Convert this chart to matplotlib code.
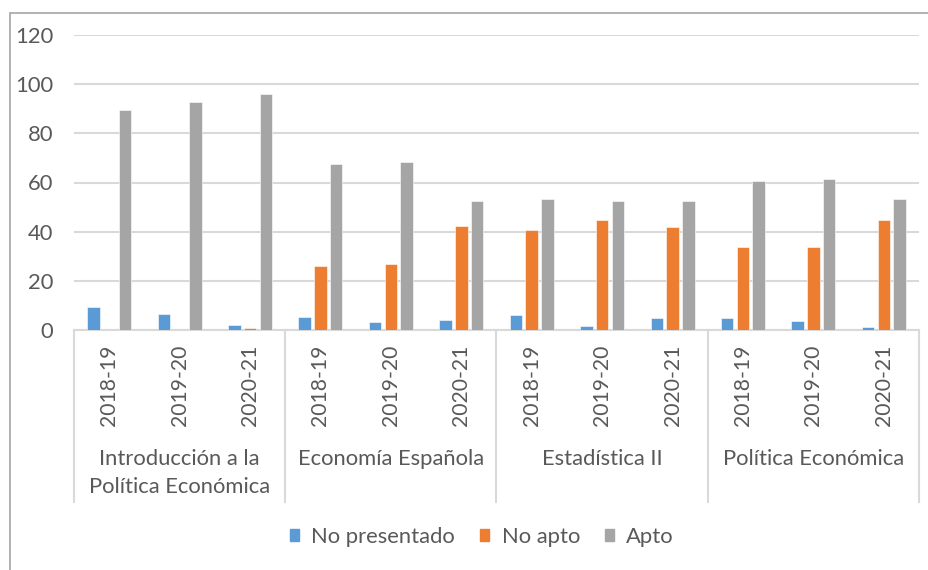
import matplotlib
matplotlib.use("Agg")
import matplotlib.pyplot as plt
from matplotlib.lines import Line2D
from matplotlib.patches import Rectangle
import numpy as np

plt.rcParams['font.family'] = ['Lato', 'DejaVu Sans']

groups = ["Introducción a la\nPolítica Económica", "Economía Española", "Estadística II", "Política Económica"]
years = ["2018-19", "2019-20", "2020-21"]
series_names = ["No presentado", "No apto", "Apto"]
no_presentado = [9.3, 6.7, 2.0, 5.1, 3.2, 4.1, 5.9, 1.6, 4.8, 4.8, 3.7, 1.2]
no_apto = [0, 0, 1.0, 26.0, 26.9, 42.5, 40.5, 44.6, 42.1, 33.8, 33.8, 44.6]
apto = [89.6, 92.8, 95.9, 67.4, 68.4, 52.3, 53.4, 52.3, 52.3, 60.7, 61.6, 53.4]
colors = ["#5B9BD5", "#ED7D31", "#A5A5A5"]
yticks = [0, 20, 40, 60, 80, 100, 120]

W, H = 929, 570
fig = plt.figure(figsize=(W / 100, H / 100), dpi=100)
text_color = "#595959"
grid_color = "#D9D9D9"
fs = 15.8

left, right, top, base = 74, 919, 35, 330
ax = fig.add_axes([left / W, 1 - base / H, (right - left) / W, (base - top) / H])

n = len(no_presentado)
x = np.arange(n)
bw = 0.178
off = 0.224
for i, (vals, c, name) in enumerate(zip([no_presentado, no_apto, apto], colors, series_names)):
    ax.bar(x + (i - 1) * off, vals, width=bw, color=c, edgecolor="white", linewidth=0.4, label=name, zorder=3)

ax.set_xlim(-0.5, n - 0.5)
ax.set_ylim(0, 120)
ax.set_yticks(yticks)
ax.set_yticklabels([str(v) for v in yticks])
ax.tick_params(axis='y', length=0, pad=15, labelsize=fs, labelcolor=text_color)
ax.set_xticks([])
for s in ['top', 'right', 'left']:
    ax.spines[s].set_visible(False)
ax.spines['bottom'].set_color(grid_color)
ax.spines['bottom'].set_linewidth(1.5)
ax.yaxis.grid(True, color=grid_color, linewidth=1.5, zorder=0)
ax.set_axisbelow(True)

ah = base - top
trans = ax.get_xaxis_transform()
# year labels
for j in range(n):
    ax.text(x[j], -15 / ah, years[j % 3], rotation=90, ha='center', va='top',
            fontsize=15.2, color=text_color, transform=trans, clip_on=False)
# group separators
sep_bottom = -(502 - base) / ah
for g in range(len(groups) + 1):
    xs = g * 3 - 0.5
    ax.add_line(Line2D([xs, xs], [0, sep_bottom], transform=trans, color=grid_color,
                       linewidth=1.5, clip_on=False))
# group labels, line by line
baselines = [465, 493.3]
for g, name in enumerate(groups):
    for k, line in enumerate(name.split("\n")):
        ax.text(g * 3 + 1, -(baselines[k] - base) / ah, line, ha='center', va='baseline', fontsize=fs,
                color=text_color, transform=trans, clip_on=False)

# outer border
fig.patches.append(Rectangle((10 / W, -0.1), 1.2, 1 - 13 / H + 0.1, transform=fig.transFigure,
                             fill=False, edgecolor="#A6A6A6", linewidth=1.2))

handles = [Rectangle((0, 0), 1, 1, color=c) for c in colors]
fig.legend(handles, series_names, loc='center', bbox_to_anchor=(482 / W, 1 - 537 / H), ncol=3,
           frameon=False, fontsize=fs, labelcolor=text_color, handlelength=0.42, handleheight=0.42,
           handletextpad=0.55, columnspacing=1.15)

fig.savefig("out.png", dpi=100)
